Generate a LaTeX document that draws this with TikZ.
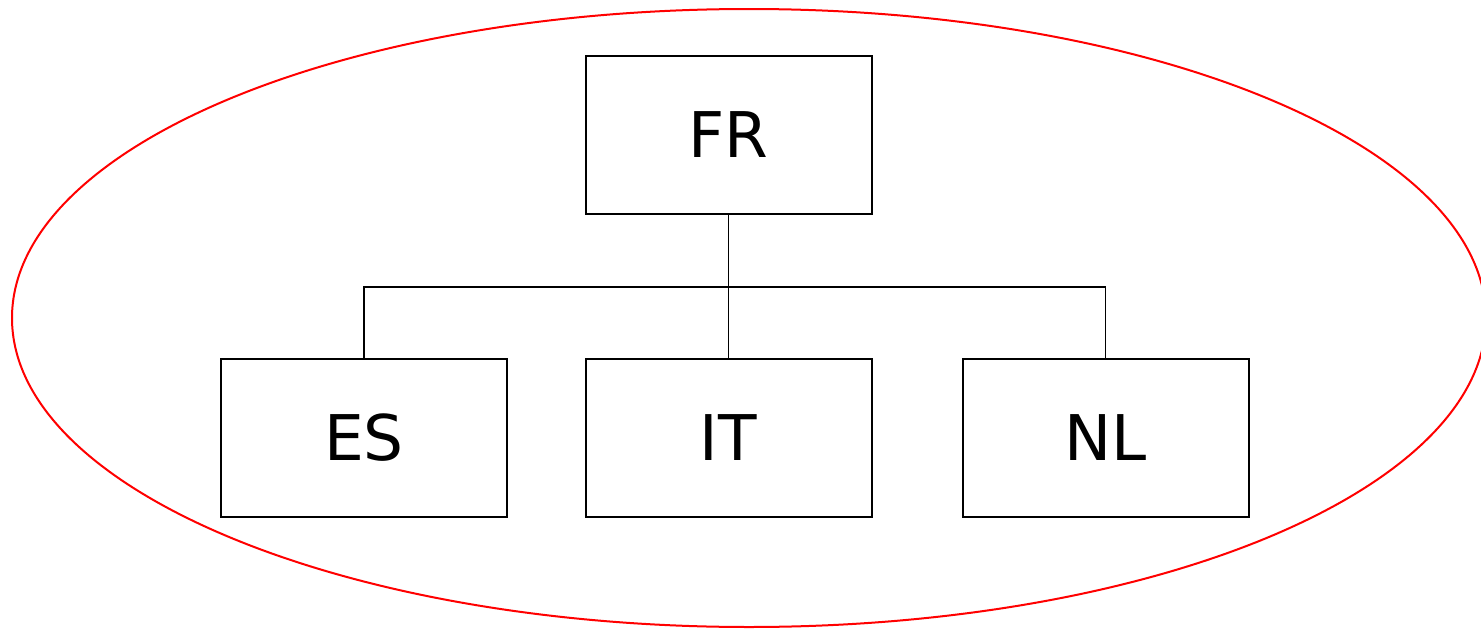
\documentclass[tikz,border=0pt]{standalone}
\usepackage{fontspec}
\setmainfont{DejaVu Sans}
\begin{document}
\begin{tikzpicture}[x=1pt,y=-1pt,
  box/.style={draw=black,line width=2pt,minimum width=286pt,minimum height=158pt,inner sep=0pt,font=\fontsize{63}{70}\selectfont},
  conn/.style={draw=black,line width=1.6pt}]
\useasboundingbox (0,0) rectangle (1481,629);
\draw[red,line width=2pt] (749,318) ellipse [x radius=737,y radius=309];
\node[box] (fr) at (728.5,135) {FR};
\node[box] (es) at (364,437.5) {ES};
\node[box] (it) at (728.5,437.5) {IT};
\node[box] (nl) at (1105.5,437.5) {NL};
\coordinate (j) at (728.5,287);
\draw[conn] (fr.south) -- (j);
\draw[conn] (es.north) |- (j) -| (nl.north);
\draw[conn] (j) -- (it.north);
\end{tikzpicture}
\end{document}
